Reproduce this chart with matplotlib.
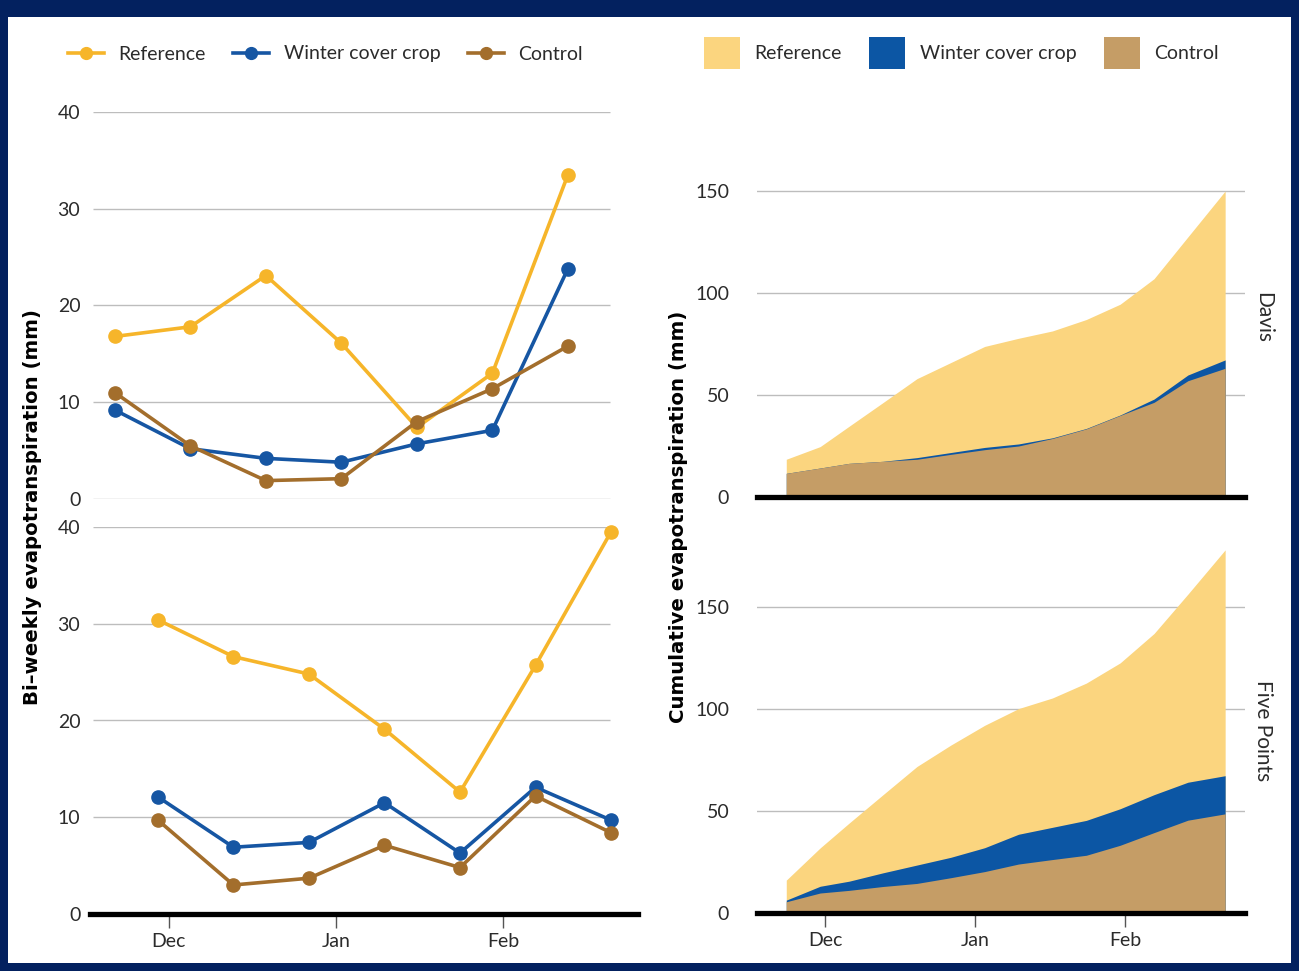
import matplotlib
matplotlib.use('Agg')
import matplotlib.pyplot as plt
from matplotlib.lines import Line2D
from matplotlib.patches import Patch, Rectangle

# ---------------- data ----------------
months = ['Dec', 'Jan', 'Feb']
month_days = [0, 31, 62]          # days since Dec 1

series_names = ['Reference', 'Winter cover crop', 'Control']

# bi-weekly ET (mm)
davis_days = [-10, 4, 18, 32, 46, 60, 74]
davis_reference = [16.8, 17.8, 23.1, 16.1, 7.4, 13.0, 33.5]
davis_winter = [9.2, 5.2, 4.2, 3.8, 5.7, 7.1, 23.8]
davis_control = [11.0, 5.5, 1.9, 2.1, 8.0, 11.4, 15.8]

fp_days = [-2, 12, 26, 40, 54, 68, 82]
fp_reference = [30.4, 26.6, 24.8, 19.1, 12.6, 25.7, 39.5]
fp_winter = [12.1, 6.9, 7.4, 11.5, 6.3, 13.1, 9.7]
fp_control = [9.7, 3.0, 3.7, 7.1, 4.8, 12.2, 8.4]

# cumulative ET (mm)
cum_days = [-8, -1, 5, 12, 19, 26, 33, 40, 47, 54, 61, 68, 75, 82.7]
davis_cum_reference = [18.5, 24.7, 34.7, 46.3, 58.0, 65.9, 73.8, 77.8, 81.4, 87.0, 94.5, 107.0, 127.5, 150.0]
davis_cum_winter = [11.6, 14.2, 16.5, 17.5, 19.3, 21.8, 24.3, 26.0, 29.0, 33.6, 40.2, 48.0, 59.8, 67.2]
davis_cum_control = [11.6, 14.2, 16.5, 17.5, 18.5, 20.9, 23.2, 25.0, 28.7, 33.4, 40.0, 46.4, 57.0, 63.1]

fp_cum_reference = [16.1, 31.9, 44.1, 58.0, 71.8, 82.3, 92.0, 100.2, 105.4, 112.7, 122.6, 137.0, 156.3, 178.0]
fp_cum_winter = [6.3, 13.1, 15.6, 19.7, 23.5, 27.3, 32.0, 38.6, 42.0, 45.4, 51.1, 58.0, 64.1, 67.3]
fp_cum_control = [5.5, 9.8, 11.1, 13.0, 14.5, 17.3, 20.3, 24.0, 26.2, 28.3, 33.2, 39.4, 45.5, 48.6]

left_yticks = [0, 10, 20, 30, 40]
right_yticks = [0, 50, 100, 150]

# ---------------- style ----------------
line_colors = ['#F6B52A', '#1656A3', '#A36E2C']
area_colors = ['#FBD57F', '#0C56A4', '#C59D66']
navy = '#03215F'
grid_col = '#BDBDBD'
text_col = '#2B2B2B'
FONT = ['Lato', 'DejaVu Sans']
plt.rcParams['font.family'] = FONT
FS = 14

W, H = 1299, 971
fig = plt.figure(figsize=(W / 100, H / 100), dpi=100, facecolor=navy)
fig.patches.append(Rectangle((8 / W, 8 / H), (1291 - 8) / W, (963 - 17) / H,
                             transform=fig.transFigure, facecolor='white',
                             edgecolor='none', zorder=-10))

def fx(px):
    return px / W

def fy(py):
    return 1 - py / H

XL = (-14.6, 87.0)

def line_panel(rect, days, vals, bottom):
    ax = fig.add_axes(rect)
    ax.set_facecolor('none')
    for s in ax.spines.values():
        s.set_visible(False)
    ax.set_xlim(*XL)
    ax.set_ylim(0, 40)
    for t in left_yticks:
        if t == 0 and bottom:
            continue
        ax.hlines(t, -14.1, 81.9, color=grid_col, lw=1.0, zorder=1)
    if bottom:
        ax.axhline(0, color='black', lw=3.8, zorder=3, clip_on=False)
    for v, c in zip(vals, line_colors):
        ax.plot(days, v, color=c, lw=2.6, marker='o', ms=9.5, zorder=4, clip_on=False)
    ax.set_yticks(left_yticks)
    ax.tick_params(axis='y', length=0, pad=7, labelsize=FS, labelcolor=text_col)
    if bottom:
        ax.set_xticks(month_days)
        ax.set_xticklabels(months)
        ax.tick_params(axis='x', length=10, width=1, color='#555555', pad=4,
                       labelsize=FS, labelcolor=text_col)
    else:
        ax.set_xticks([])
    return ax

def area_panel(rect, vals, bottom, label, label_y):
    ax = fig.add_axes(rect)
    ax.set_facecolor('none')
    for s in ax.spines.values():
        s.set_visible(False)
    ax.set_xlim(-14.05, 86.8)
    ax.set_ylim(0, 182)
    for t in right_yticks[1:]:
        ax.axhline(t, color=grid_col, lw=1.0, zorder=1)
    for v, c in zip(vals, area_colors):
        ax.fill_between(cum_days, 0, v, color=c, lw=0, zorder=2)
    ax.axhline(0, color='black', lw=3.8, zorder=3, clip_on=False)
    ax.set_yticks(right_yticks)
    ax.tick_params(axis='y', length=0, pad=20, labelsize=FS, labelcolor=text_col)
    if bottom:
        ax.set_xticks(month_days)
        ax.set_xticklabels(months)
        ax.tick_params(axis='x', length=10, width=1, color='#555555', pad=4,
                       labelsize=FS, labelcolor=text_col)
    else:
        ax.set_xticks([])
    fig.text(fx(1263), fy(label_y), label, rotation=-90, ha='center', va='center',
             fontsize=FS + 1, color=text_col)
    return ax

# left panels
line_panel([fx(90), fy(499), fx(638) - fx(90), fy(112) - fy(499)],
           davis_days, [davis_reference, davis_winter, davis_control], False)
line_panel([fx(90), fy(914), fx(638) - fx(90), fy(527) - fy(914)],
           fp_days, [fp_reference, fp_winter, fp_control], True)

# right panels
h_right = 182 * 2.04 / H
area_panel([fx(757), fy(497), fx(1245) - fx(757), h_right],
           [davis_cum_reference, davis_cum_winter, davis_cum_control], False, 'Davis', 317)
area_panel([fx(757), fy(913), fx(1245) - fx(757), h_right],
           [fp_cum_reference, fp_cum_winter, fp_cum_control], True, 'Five Points', 731)

# axis titles
fig.text(fx(33), fy(507), 'Bi\u2013weekly evapotranspiration (mm)', rotation=90,
         ha='center', va='center', fontsize=14.2, fontweight='bold',
         family='DejaVu Sans', color='black')
fig.text(fx(678), fy(517), 'Cumulative evapotranspiration (mm)', rotation=90,
         ha='center', va='center', fontsize=14.2, fontweight='bold',
         family='DejaVu Sans', color='black')

# legends
line_handles = [Line2D([], [], color=c, lw=2.6, marker='o', ms=8.5) for c in line_colors]
fig.legend(line_handles, series_names, loc='center left',
           bbox_to_anchor=(fx(68), fy(54)), ncol=3, frameon=False,
           handlelength=1.85, handletextpad=0.75, columnspacing=1.4,
           borderpad=0, borderaxespad=0, fontsize=FS, labelcolor=text_col)

patch_handles = [Patch(facecolor=c, edgecolor='none') for c in area_colors]
fig.legend(patch_handles, series_names, loc='center left',
           bbox_to_anchor=(fx(704), fy(53)), ncol=3, frameon=False,
           handlelength=1.85, handleheight=2.1, handletextpad=0.75, columnspacing=1.4,
           borderpad=0, borderaxespad=0, fontsize=FS, labelcolor=text_col)

fig.savefig('out.png', dpi=100, facecolor=navy)
